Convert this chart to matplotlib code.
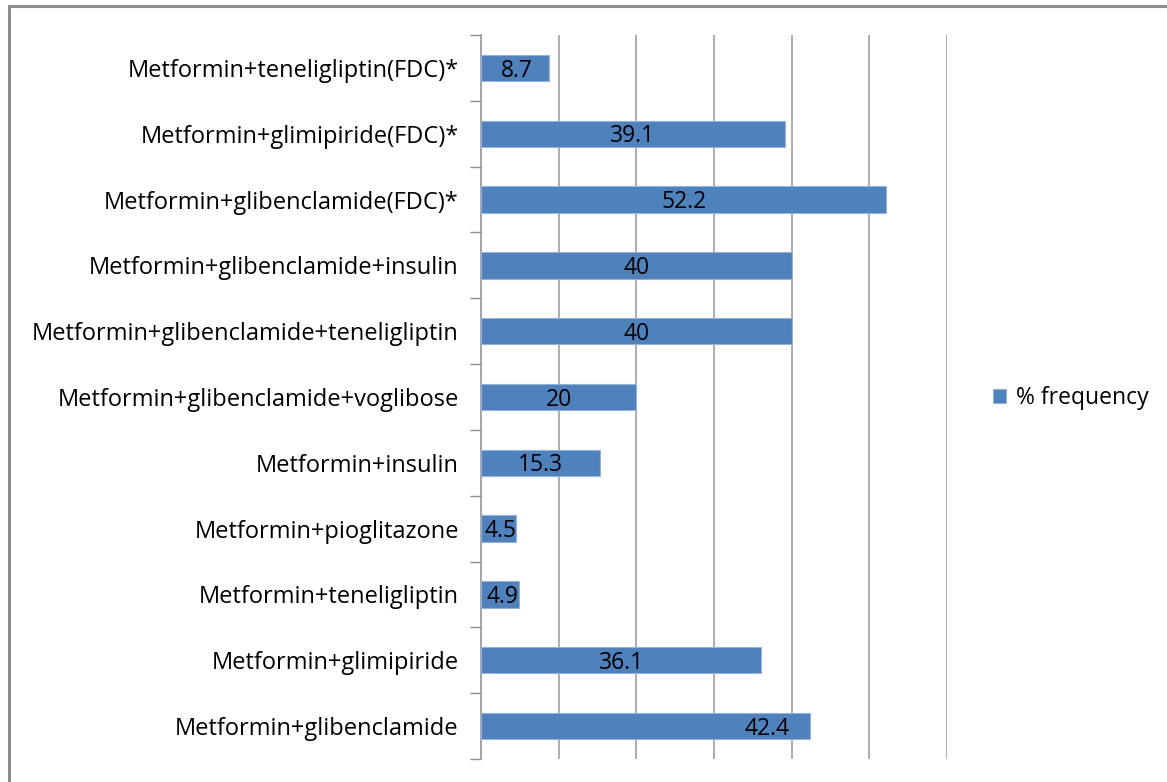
import matplotlib.pyplot as plt
import numpy as np
from matplotlib.patches import Rectangle

plt.rcParams['font.family'] = ['Open Sans', 'DejaVu Sans']

categories = [
    'Metformin+teneligliptin(FDC)*',
    'Metformin+glimipiride(FDC)*',
    'Metformin+glibenclamide(FDC)*',
    'Metformin+glibenclamide+insulin',
    'Metformin+glibenclamide+teneligliptin',
    'Metformin+glibenclamide+voglibose',
    'Metformin+insulin',
    'Metformin+pioglitazone',
    'Metformin+teneligliptin',
    'Metformin+glimipiride',
    'Metformin+glibenclamide',
]
values = [8.7, 39.1, 52.2, 40, 40, 20, 15.3, 4.5, 4.9, 36.1, 42.4]
labels = ['8.7', '39.1', '52.2', '40', '40', '20', '15.3', '4.5', '4.9', '36.1', '42.4']

fig = plt.figure(figsize=(11.67, 7.82), dpi=100)
ax = fig.add_axes([481 / 1167, 1 - 759 / 782, (947 - 481) / 1167, (759 - 35) / 782])

# chart border (only left/top visible in the crop)
fig.patches.append(Rectangle((9 / 1167, -0.05), 1.2, 1 - 6 / 782 + 0.05,
                             transform=fig.transFigure, fill=False,
                             edgecolor='#8c8c8c', linewidth=2.2))

y = np.arange(len(categories))
bars = ax.barh(y, values, height=0.4, color='#4F81BD', edgecolor='#95B3D7',
               linewidth=0.8, label='% frequency', zorder=3)

for i, (v, t) in enumerate(zip(values, labels)):
    if v < 10:
        x = v / 2 + 0.3
    else:
        x = v / 2
    if t == '42.4':
        x = v - 5.6
    ax.text(x, i + 0.04, t, ha='center', va='center', fontsize=16.5,
            color='black', zorder=4)

ax.set_xlim(0, 60)
ax.set_ylim(len(categories) - 0.5, -0.5)
ax.set_xticks(np.arange(10, 61, 10))
ax.xaxis.grid(True, color='#a0a0a0', linewidth=1.2, zorder=0)
ax.tick_params(axis='x', length=0, labelbottom=False)

ax.set_yticks(y)
ax.set_yticklabels(categories, fontsize=17)
ax.tick_params(axis='y', which='major', length=0, pad=16)
ax.set_yticks(np.arange(-0.5, len(categories), 1), minor=True)
ax.tick_params(axis='y', which='minor', length=8, color='#8c8c8c', width=1)

for s in ['top', 'right', 'bottom']:
    ax.spines[s].set_visible(False)
ax.spines['left'].set_color('#8c8c8c')
ax.spines['left'].set_linewidth(1.1)

fig.legend(handles=[bars], labels=['% frequency'], loc='center left',
           bbox_to_anchor=(972 / 1167, 1 - 398 / 782), frameon=False,
           fontsize=16.5, handlelength=0.6, handleheight=0.6, handletextpad=0.4)

fig.savefig('out.png', dpi=100)
